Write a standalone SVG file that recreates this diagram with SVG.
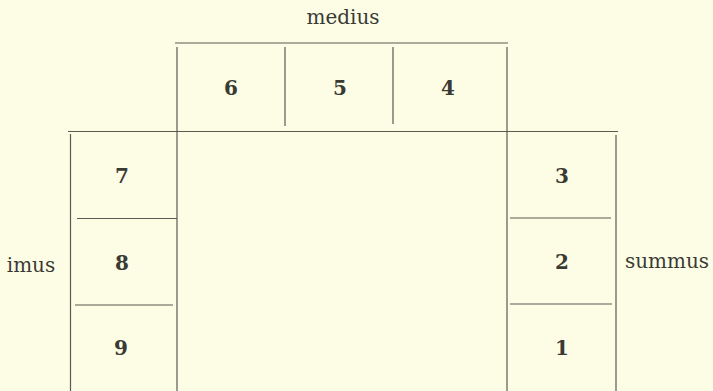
<svg xmlns="http://www.w3.org/2000/svg" width="713" height="391" viewBox="0 0 713 391">
<style>
.ln{stroke:#5a5a52;stroke-width:1.2;fill:none}
.lb{font-family:"DejaVu Serif","Liberation Serif",serif;font-size:20px;fill:#3a3a34;text-anchor:middle}
.num{font-family:"DejaVu Serif","Liberation Serif",serif;font-size:20px;font-weight:bold;fill:#3a3a34;text-anchor:middle}
</style>
<rect width="713" height="391" fill="#fdfde6"/>
<g id="frame">
<line class="ln" x1="175" y1="43" x2="508" y2="43"/>
<line class="ln" x1="177" y1="47" x2="177" y2="391"/>
<line class="ln" x1="507" y1="47" x2="507" y2="391"/>
<line class="ln" x1="285" y1="47" x2="285" y2="126"/>
<line class="ln" x1="393" y1="47" x2="393" y2="124"/>
<line class="ln" x1="68" y1="131.5" x2="618" y2="131.5"/>
<line class="ln" x1="70.5" y1="134" x2="70.5" y2="391"/>
<line class="ln" x1="616" y1="135" x2="616" y2="391"/>
<line class="ln" x1="77" y1="218.5" x2="177" y2="218.5"/>
<line class="ln" x1="75" y1="305" x2="173" y2="305"/>
<line class="ln" x1="510" y1="218" x2="611" y2="218"/>
<line class="ln" x1="510" y1="304" x2="612" y2="304"/>
</g>
<g id="labels">
<text class="lb" x="343" y="24">medius</text>
<text class="lb" x="31" y="272">imus</text>
<text class="lb" x="667" y="268">summus</text>
</g>
<g id="cell6"><text class="num" x="231" y="95">6</text></g>
<g id="cell5"><text class="num" x="340" y="95">5</text></g>
<g id="cell4"><text class="num" x="448" y="95">4</text></g>
<g id="cell7"><text class="num" x="122" y="183">7</text></g>
<g id="cell8"><text class="num" x="122" y="270">8</text></g>
<g id="cell9"><text class="num" x="121" y="355">9</text></g>
<g id="cell3"><text class="num" x="562" y="183">3</text></g>
<g id="cell2"><text class="num" x="562" y="269">2</text></g>
<g id="cell1"><text class="num" x="562" y="355">1</text></g>
</svg>
